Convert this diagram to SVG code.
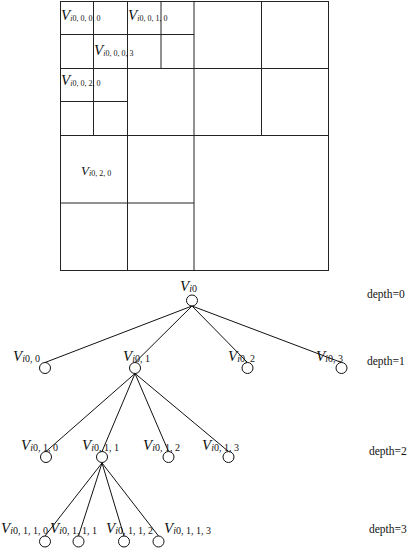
<svg xmlns="http://www.w3.org/2000/svg" width="413" height="550" viewBox="0 0 413 550">
<style>
.g{stroke:#222;stroke-width:1;fill:none}
.e{stroke:#111;stroke-width:1;fill:none}
.n{stroke:#111;stroke-width:1;fill:#fff}
text{font-family:"Liberation Serif","Times New Roman",serif;fill:#111}
.v{font-size:15px;font-style:italic}
.vs{font-size:13px;font-style:italic}
.s{font-size:10px;font-style:normal}
.sg{font-size:8px;font-style:normal}
.i{font-style:italic}
.d{font-size:11.5px}
</style>
<g id="grid">
<rect class="g" x="60.5" y="1.5" width="268" height="269"/>
<line class="g" x1="127.5" y1="1.5" x2="127.5" y2="270.5"/>
<line class="g" x1="194" y1="1.5" x2="194" y2="270.5"/>
<line class="g" x1="261.5" y1="1.5" x2="261.5" y2="135.5"/>
<line class="g" x1="93.5" y1="1.5" x2="93.5" y2="135.5"/>
<line class="g" x1="161" y1="1.5" x2="161" y2="68.5"/>
<line class="g" x1="60.5" y1="135.5" x2="328.5" y2="135.5"/>
<line class="g" x1="60.5" y1="68.5" x2="328.5" y2="68.5"/>
<line class="g" x1="60.5" y1="34.5" x2="194" y2="34.5"/>
<line class="g" x1="60.5" y1="101.5" x2="127.5" y2="101.5"/>
<line class="g" x1="60.5" y1="203" x2="194" y2="203"/>
<text class="v" x="61" y="20">V<tspan class="sg" dy="1"><tspan class="i">i</tspan>0, 0, 0, 0</tspan></text>
<text class="v" x="128" y="20">V<tspan class="sg" dy="1"><tspan class="i">i</tspan>0, 0, 1, 0</tspan></text>
<text class="v" x="94" y="55">V<tspan class="sg" dy="1"><tspan class="i">i</tspan>0, 0, 0, 3</tspan></text>
<text class="v" x="61" y="85">V<tspan class="sg" dy="1"><tspan class="i">i</tspan>0, 0, 2, 0</tspan></text>
<text class="vs" x="81" y="175">V<tspan class="sg" dy="1"><tspan class="i">i</tspan>0, 2, 0</tspan></text>
</g>
<g id="connectors">
<line class="e" x1="192" y1="306" x2="45" y2="362.5"/>
<line class="e" x1="192" y1="306" x2="135" y2="362.5"/>
<line class="e" x1="192" y1="306" x2="247.5" y2="362.5"/>
<line class="e" x1="192" y1="306" x2="341.5" y2="362.5"/>
<line class="e" x1="135" y1="373.5" x2="46" y2="451.5"/>
<line class="e" x1="135" y1="373.5" x2="102" y2="451.5"/>
<line class="e" x1="135" y1="373.5" x2="168.5" y2="451.5"/>
<line class="e" x1="135" y1="373.5" x2="228.5" y2="451.5"/>
<line class="e" x1="102" y1="463" x2="45" y2="536"/>
<line class="e" x1="102" y1="463" x2="78.5" y2="536"/>
<line class="e" x1="102" y1="463" x2="124" y2="536"/>
<line class="e" x1="102" y1="463" x2="158.5" y2="536"/>
</g>
<g id="n0"><circle class="n" cx="192" cy="300.5" r="5.5"/><text class="v" x="180" y="291">V<tspan class="s" dy="1"><tspan class="i">i</tspan>0</tspan></text></g>
<g id="n00"><circle class="n" cx="45" cy="368" r="5.5"/><text class="v" x="13" y="361">V<tspan class="s" dy="1"><tspan class="i">i</tspan>0, 0</tspan></text></g>
<g id="n01"><circle class="n" cx="135" cy="368" r="5.5"/><text class="v" x="123" y="361">V<tspan class="s" dy="1"><tspan class="i">i</tspan>0, 1</tspan></text></g>
<g id="n02"><circle class="n" cx="247.5" cy="368" r="5.5"/><text class="v" x="228" y="361">V<tspan class="s" dy="1"><tspan class="i">i</tspan>0, 2</tspan></text></g>
<g id="n03"><circle class="n" cx="341.5" cy="368" r="5.5"/><text class="v" x="316" y="361">V<tspan class="s" dy="1"><tspan class="i">i</tspan>0, 3</tspan></text></g>
<g id="n010"><circle class="n" cx="46" cy="457" r="5.5"/><text class="v" x="21" y="450">V<tspan class="s" dy="1"><tspan class="i">i</tspan>0, 1, 0</tspan></text></g>
<g id="n011"><circle class="n" cx="102" cy="457" r="5.5"/><text class="v" x="82" y="450">V<tspan class="s" dy="1"><tspan class="i">i</tspan>0, 1, 1</tspan></text></g>
<g id="n012"><circle class="n" cx="168.5" cy="457" r="5.5"/><text class="v" x="143" y="450">V<tspan class="s" dy="1"><tspan class="i">i</tspan>0, 1, 2</tspan></text></g>
<g id="n013"><circle class="n" cx="228.5" cy="457" r="5.5"/><text class="v" x="202" y="450">V<tspan class="s" dy="1"><tspan class="i">i</tspan>0, 1, 3</tspan></text></g>
<g id="n0110"><circle class="n" cx="45" cy="541.5" r="5.5"/><text class="v" x="1" y="533">V<tspan class="s" dy="1"><tspan class="i">i</tspan>0, 1, 1, 0</tspan></text></g>
<g id="n0111"><circle class="n" cx="78.5" cy="541.5" r="5.5"/><text class="v" x="50" y="533">V<tspan class="s" dy="1"><tspan class="i">i</tspan>0, 1, 1, 1</tspan></text></g>
<g id="n0112"><circle class="n" cx="124" cy="541.5" r="5.5"/><text class="v" x="106" y="533">V<tspan class="s" dy="1"><tspan class="i">i</tspan>0, 1, 1, 2</tspan></text></g>
<g id="n0113"><circle class="n" cx="158.5" cy="541.5" r="5.5"/><text class="v" x="164" y="533">V<tspan class="s" dy="1"><tspan class="i">i</tspan>0, 1, 1, 3</tspan></text></g>
<g id="depths">
<text class="d" x="367" y="298">depth=0</text>
<text class="d" x="367" y="365">depth=1</text>
<text class="d" x="369" y="455">depth=2</text>
<text class="d" x="369" y="533">depth=3</text>
</g>
</svg>
